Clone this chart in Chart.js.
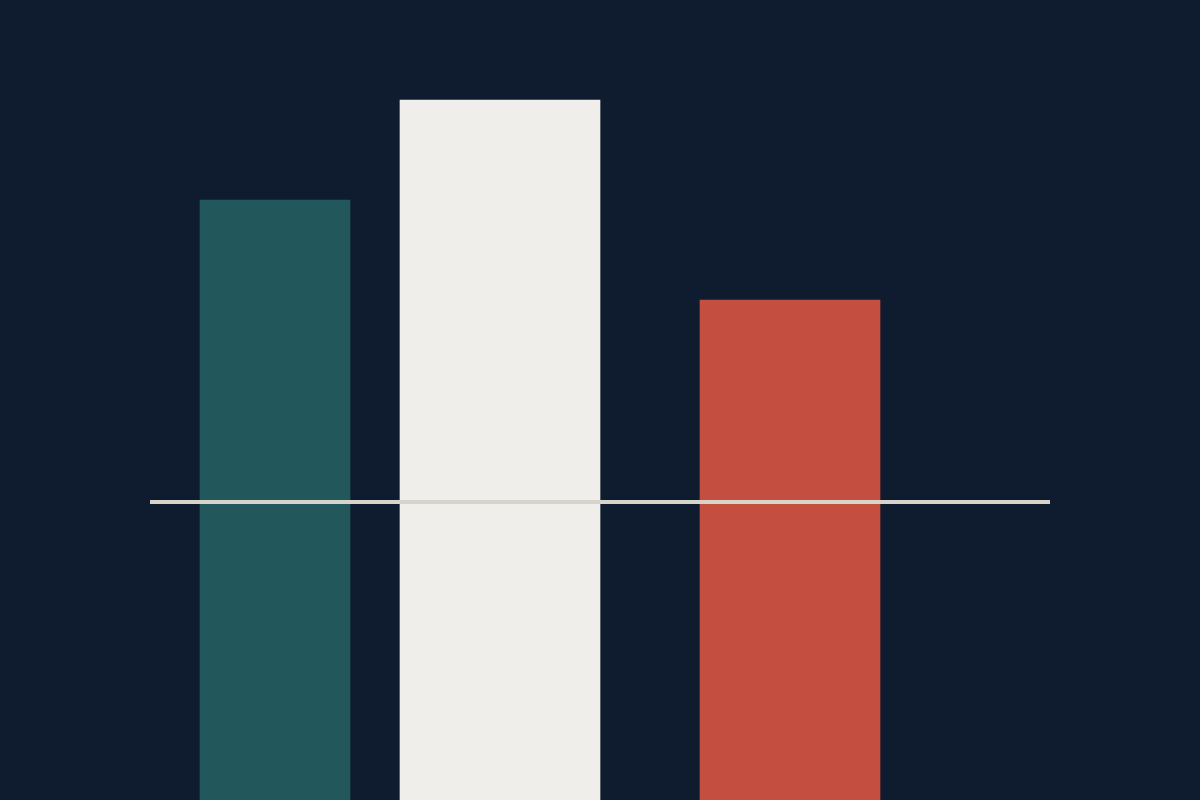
<!DOCTYPE html>
<html>
<head>
<meta charset="utf-8">
<script src="https://cdn.jsdelivr.net/npm/chart.js@4"></script>
<style>
  html, body { margin: 0; padding: 0; background: #0f1b2e; overflow: hidden; }
  canvas { display: block; }
</style>
</head>
<body>
<canvas id="chart" width="1200" height="800"></canvas>
<script>
// values
const categories = ['A', 'B', 'C'];
const barValues = [6, 7, 5];
const referenceValue = 2.98;

// layout only: bar centres / widths on a 0-1200 x axis
const barCenters = [275, 500, 790];
const barWidths = [150, 200, 180];
const barColors = ['#22585c', '#efeeea', '#c44f40'];
const lineSpan = [150, 1050];

const bg = {
  id: 'bg',
  beforeDraw(chart) {
    const c = chart.ctx;
    c.save();
    c.fillStyle = '#0f1b2e';
    c.fillRect(0, 0, chart.width, chart.height);
    c.restore();
  }
};

const datasets = [{
  type: 'line',
  label: 'reference',
  data: lineSpan.map(x => ({ x: x, y: referenceValue })),
  borderColor: '#d6d3ca',
  borderWidth: 4,
  borderCapStyle: 'butt',
  pointRadius: 0,
  order: 0
}];

categories.forEach(function(cat, i) {
  datasets.push({
    type: 'bar',
    label: cat,
    data: [{ x: barCenters[i], y: barValues[i] }],
    backgroundColor: barColors[i],
    barThickness: barWidths[i],
    grouped: false,
    order: 1
  });
});

new Chart(document.getElementById('chart').getContext('2d'), {
  data: { datasets: datasets },
  options: {
    responsive: false,
    devicePixelRatio: 1,
    animation: false,
    layout: { padding: 0 },
    plugins: { legend: { display: false }, tooltip: { enabled: false } },
    scales: {
      x: { type: 'linear', min: 0, max: 1200, offset: false, display: false },
      y: { min: 0, max: 8, display: false }
    }
  },
  plugins: [bg]
});
</script>
</body>
</html>
